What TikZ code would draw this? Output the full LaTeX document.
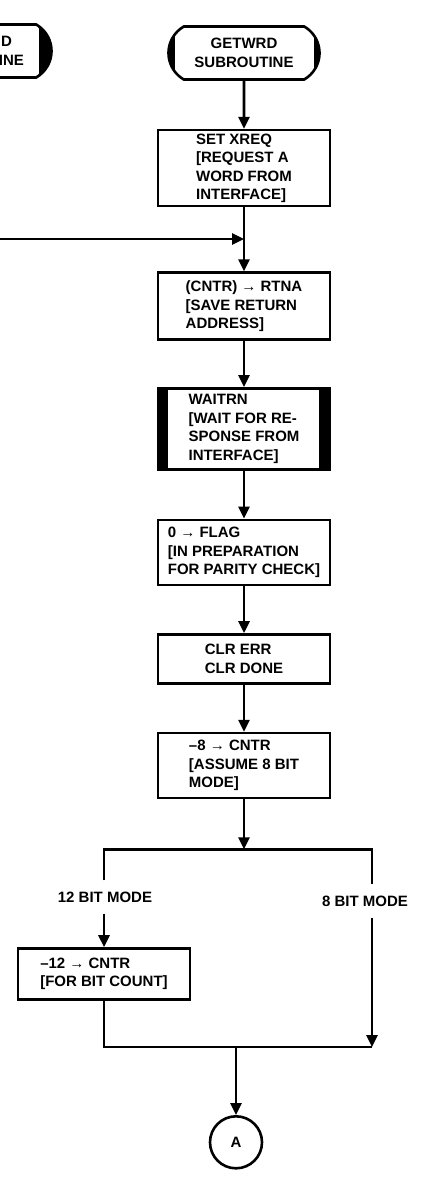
\documentclass[tikz,border=0pt]{standalone}
\usepackage{fontspec}
\setmainfont{Liberation Sans}
\usetikzlibrary{arrows.meta,positioning,shapes.misc}

\begin{document}
\begin{tikzpicture}[
  x=1pt, y=-1pt,
  line width=2.6pt,
  every node/.style={font=\bfseries\fontsize{15pt}{18.5pt}\selectfont},
  term/.style={draw, rounded rectangle, rounded rectangle arc length=120, minimum width=155pt, minimum height=53pt, fill=black, align=center, inner sep=2pt,
    path picture={\fill[white, rounded corners=4pt] ([xshift=11pt]path picture bounding box.north west) rectangle ([xshift=-#1]path picture bounding box.south east);}},
  term/.default=10pt,
  box/.style={draw, rectangle, minimum width=172pt, align=left, inner sep=2pt},
  waitbox/.style={box, path picture={\fill (path picture bounding box.north west) rectangle ([xshift=10pt]path picture bounding box.south west);
    \fill ([xshift=-11pt]path picture bounding box.north east) rectangle (path picture bounding box.south east);}},
  conn/.style={draw, circle, minimum size=52pt, inner sep=0pt},
  lbl/.style={inner xsep=2pt, inner ysep=10pt},
  arr/.style={-{Triangle[length=12pt, width=11pt]}}
]
\path[use as bounding box, clip] (0,0) rectangle (426,1180);

% terminals
\node[term=17pt, text width=96pt, align=right] (lterm) at (-24,51) {D\rule{12pt}{0pt}\\INE};
\node[term] (getwrd) at (244,53) {GETWRD\\SUBROUTINE};

% main column
\node[box, minimum height=76pt, below=48pt of getwrd] (xreq) {SET XREQ\\{[}REQUEST A\\WORD FROM\\INTERFACE]};
\node[box, minimum height=67pt, below=64pt of xreq] (rtna) {(CNTR) → RTNA\\{[}SAVE RETURN\\ADDRESS]};
\node[waitbox, minimum height=81pt, below=46pt of rtna] (waitrn) {WAITRN\\{[}WAIT FOR RE-\\SPONSE FROM\\INTERFACE]};
\node[box, minimum height=65pt, below=48pt of waitrn] (flag) {0 → FLAG\\{[}IN PREPARATION\\FOR PARITY CHECK]};
\node[box, minimum height=49pt, below=47pt of flag] (clr) {CLR ERR\\CLR DONE};
\node[box, minimum height=65pt, below=47pt of clr] (cntr8) {–8 → CNTR\\{[}ASSUME 8 BIT\\MODE]};
\coordinate[below=50pt of cntr8] (split);

% mode branches
\node[lbl] (mode12) at (105,897) {12 BIT MODE};
\node[lbl] (mode8) at (365,901) {8 BIT MODE};
\node[box, minimum height=51pt] (cntr12) at (104,974) {–12 → CNTR\\{[}FOR BIT COUNT]};
\coordinate (merge) at (236,1047);
\node[conn, below=68pt of merge] (conA) {A};

\coordinate (lft) at (cntr12 |- split);
\coordinate (rgt) at ([xshift=128pt]split);
\coordinate (loopin) at (0,239);

% connectors
\draw[arr] (getwrd) -- (xreq);
\draw[arr] (xreq) -- (rtna);
\draw[arr] (loopin) -- (loopin -| xreq.south);
\draw[arr] (rtna) -- (waitrn);
\draw[arr] (waitrn) -- (flag);
\draw[arr] (flag) -- (clr);
\draw[arr] (clr) -- (cntr8);
\draw[arr] (cntr8) -- (split);
\draw (lft |- mode12.north) -- (lft) -- (rgt) -- (rgt |- mode8.north);
\draw[arr] (lft |- mode12.south) -- (cntr12);
\draw[arr] (rgt |- mode8.south) -- (rgt |- merge);
\draw (cntr12) |- (rgt |- merge);
\draw[arr] (merge) -- (conA);
\end{tikzpicture}
\end{document}
